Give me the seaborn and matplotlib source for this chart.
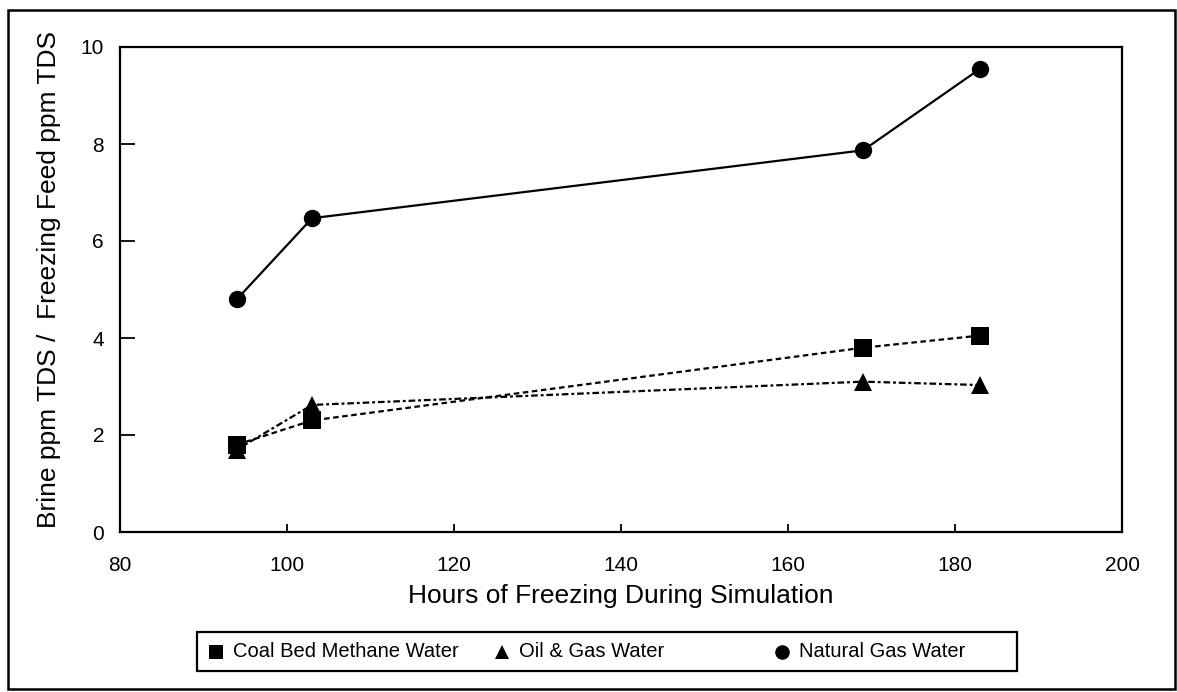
import matplotlib
matplotlib.use("Agg")
import matplotlib.pyplot as plt
import seaborn as sns
import pandas as pd
from matplotlib.lines import Line2D
from matplotlib.patches import Rectangle

# Brine / feed TDS ratios over freezing time
hours = [94, 103, 169, 183]
coal_bed_methane = [1.80, 2.30, 3.80, 4.05]
oil_gas = [1.70, 2.62, 3.10, 3.03]
natural_gas = [4.80, 6.47, 7.87, 9.55]

series_names = ["Coal Bed Methane Water", "Oil & Gas Water", "Natural Gas Water"]
x_ticks = [80, 100, 120, 140, 160, 180, 200]
y_ticks = [0, 2, 4, 6, 8, 10]

W, H = 1177, 692

sns.set_theme(style="white")
plt.rcParams["font.family"] = ["Liberation Sans", "DejaVu Sans"]


def fx(px):
    return px / W


def fy(py):
    return 1 - py / H


df = pd.DataFrame({
    "hours": hours * 3,
    "ratio": coal_bed_methane + oil_gas + natural_gas,
    "series": [series_names[0]] * 4 + [series_names[1]] * 4 + [series_names[2]] * 4,
})

markers = {series_names[0]: "s", series_names[1]: "^", series_names[2]: "o"}
dashes = {series_names[0]: (2.5, 1.6), series_names[1]: (3, 1.3, 1.3, 1.3), series_names[2]: ""}

ax_l, ax_r, ax_t, ax_b = 120, 1122, 47, 532
fig = plt.figure(figsize=(W / 100, H / 100), dpi=100)
ax = fig.add_axes([fx(ax_l), fy(ax_b), fx(ax_r) - fx(ax_l), fy(ax_t) - fy(ax_b)])

sns.lineplot(
    data=df, x="hours", y="ratio", hue="series", style="series",
    palette=["black"] * 3, markers=markers, dashes=dashes,
    markersize=12.5, markeredgewidth=0, linewidth=1.6, legend=False, ax=ax,
)

ax.set_xlim(80, 200)
ax.set_ylim(0, 10)
ax.set_xticks(x_ticks)
ax.set_yticks(y_ticks)
ax.tick_params(axis="x", direction="in", length=6, width=1.3, pad=17.5,
               labelsize=15, colors="black", bottom=True)
ax.tick_params(axis="y", direction="in", length=11, width=1.3, pad=11.5,
               labelsize=15, colors="black", left=True)
for s in ax.spines.values():
    s.set_color("black")
    s.set_linewidth(1.6)

span_w, span_h = ax_r - ax_l, ax_b - ax_t
ax.set_xlabel("Hours of Freezing During Simulation", fontsize=19, color="black")
ax.xaxis.set_label_coords(0.5, -(584 - ax_b) / span_h)
ax.set_ylabel("Brine ppm TDS /  Freezing Feed ppm TDS", fontsize=19, color="black")
ax.yaxis.set_label_coords((61 - ax_l) / span_w, (ax_b - 280) / span_h)

# Outer frame around the whole figure
fig.patches.append(Rectangle((fx(8), fy(689)), fx(1175) - fx(8), fy(10) - fy(689),
                             transform=fig.transFigure, fill=False,
                             edgecolor="black", linewidth=1.8))

# Legend box with marker-only entries
box_l, box_r, box_t, box_b = 197, 1017, 632, 671
fig.patches.append(Rectangle((fx(box_l), fy(box_b)), fx(box_r) - fx(box_l), fy(box_t) - fy(box_b),
                             transform=fig.transFigure, fill=False,
                             edgecolor="black", linewidth=1.6))
yc = (box_t + box_b) / 2
entries = [(216, "s", series_names[0]), (502, "^", series_names[1]), (782, "o", series_names[2])]
for mx, mk, label in entries:
    fig.lines.append(Line2D([fx(mx)], [fy(yc)], transform=fig.transFigure, marker=mk,
                            markersize=10.5, color="black", markeredgewidth=0, linestyle="none"))
    fig.text(fx(mx + 17), fy(yc), label, fontsize=14.5, color="black", va="center", ha="left")

fig.savefig("out.png", dpi=100)
